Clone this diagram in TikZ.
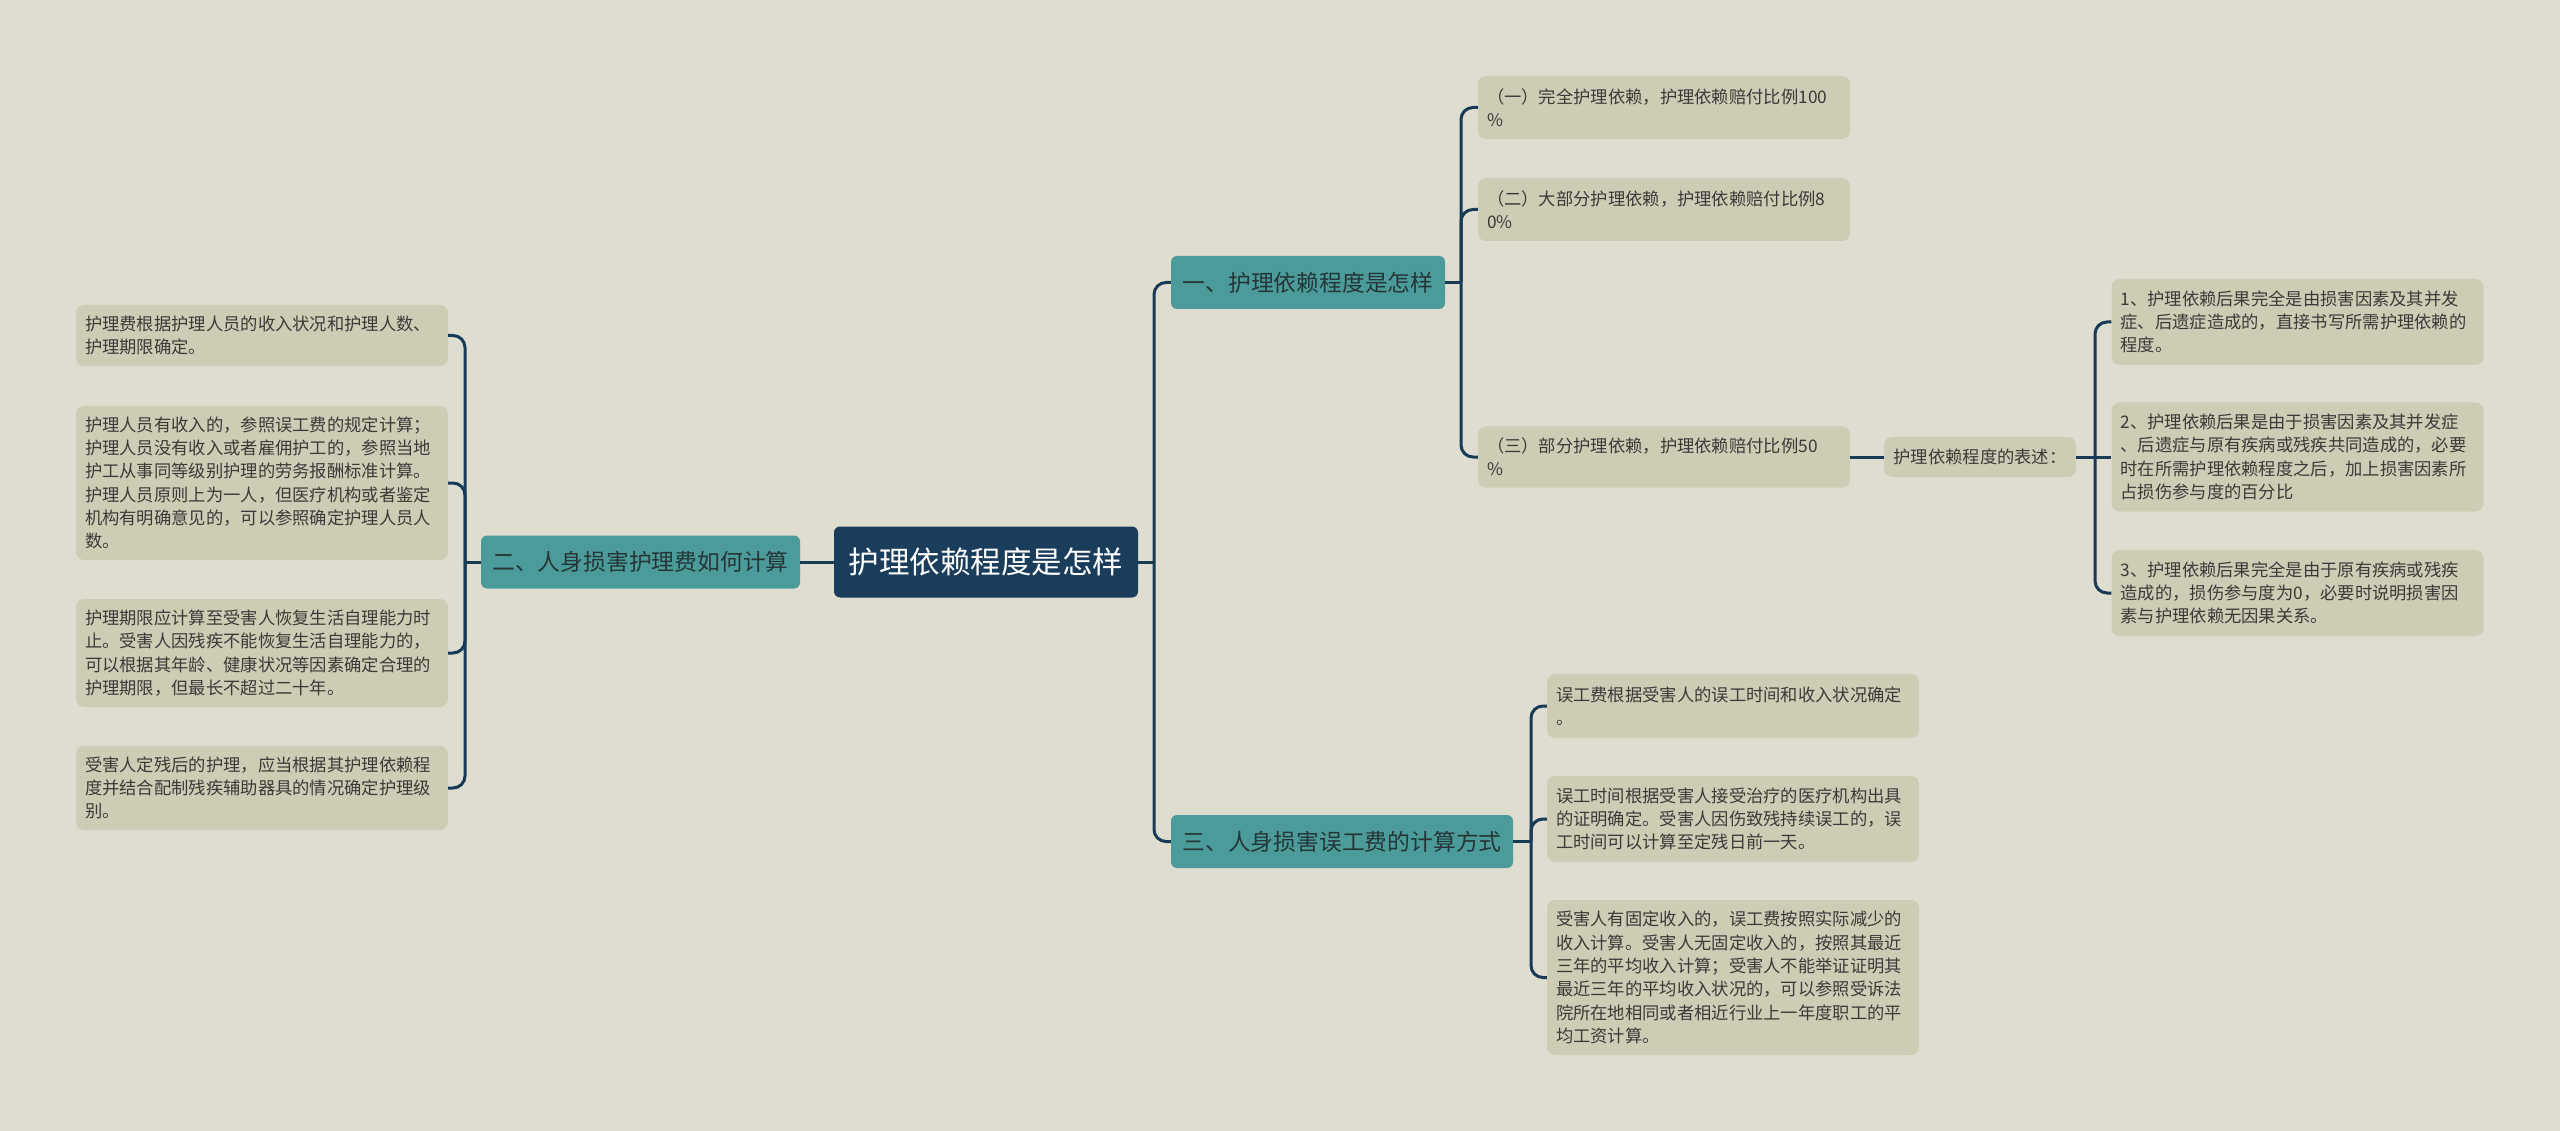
\documentclass[tikz,border=0pt]{standalone}
\usepackage{fontspec}
\newfontfamily\cjkfont{Noto Sans CJK SC}
\definecolor{bgpaper}{HTML}{DFDDCF}
\definecolor{leafgray}{HTML}{CFCCB5}
\definecolor{leaftext}{HTML}{3A3A38}
\definecolor{branchteal}{HTML}{4A9B9A}
\definecolor{branchtext}{HTML}{263637}
\definecolor{rootnavy}{HTML}{1A3D5C}
\definecolor{linkblue}{HTML}{173A57}
\begin{document}
\begin{tikzpicture}[x=1pt,y=-1pt]
\tikzstyle{link}=[draw=linkblue,line width=3pt,rounded corners=12pt]
\tikzstyle{rootbox}=[fill=rootnavy,rounded corners=6pt,text=white,font=\cjkfont\fontsize{30.5pt}{34pt}\selectfont,minimum width=304pt,minimum height=71pt,inner sep=0pt]
\tikzstyle{branchbox}=[fill=branchteal,rounded corners=6pt,text=branchtext,font=\cjkfont\fontsize{22.8pt}{26pt}\selectfont,minimum height=53pt,inner sep=0pt]
\tikzstyle{leafbox}=[fill=leafgray,rounded corners=8pt,text=leaftext,font=\cjkfont\fontsize{17.3pt}{23.3pt}\selectfont,align=left,text width=354pt,inner xsep=9pt,inner ysep=4pt]
\tikzstyle{notebox}=[fill=leafgray,rounded corners=8pt,text=leaftext,font=\cjkfont\fontsize{17.3pt}{23.3pt}\selectfont,minimum width=192pt,minimum height=40pt,inner sep=0pt]
\fill [bgpaper] (0,0) rectangle (2560,1131);
\useasboundingbox (0,0) rectangle (2560,1131);
\node [rootbox] (root) at (986,562) {护理依赖程度是怎样};
\node [branchbox,minimum width=319pt] (br2) at (640.5,562) {二、人身损害护理费如何计算};
\node [branchbox,minimum width=274pt] (br1) at (1308,282.5) {一、护理依赖程度是怎样};
\node [branchbox,minimum width=342pt] (br3) at (1342,841.5) {三、人身损害误工费的计算方式};
\node [leafbox,minimum height=61pt] (l1) at (262,335.5) {护理费根据护理人员的收入状况和护理人数、\\护理期限确定。};
\node [leafbox,minimum height=154pt] (l2) at (262,483) {护理人员有收入的，参照误工费的规定计算；\\护理人员没有收入或者雇佣护工的，参照当地\\护工从事同等级别护理的劳务报酬标准计算。\\护理人员原则上为一人，但医疗机构或者鉴定\\机构有明确意见的，可以参照确定护理人员人\\数。};
\node [leafbox,minimum height=108pt] (l3) at (262,653) {护理期限应计算至受害人恢复生活自理能力时\\止。受害人因残疾不能恢复生活自理能力的，\\可以根据其年龄、健康状况等因素确定合理的\\护理期限，但最长不超过二十年。};
\node [leafbox,minimum height=84pt] (l4) at (262,788) {受害人定残后的护理，应当根据其护理依赖程\\度并结合配制残疾辅助器具的情况确定护理级\\别。};
\node [leafbox,minimum height=63pt] (a1) at (1664,107.5) {（一）完全护理依赖，护理依赖赔付比例100\\\%};
\node [leafbox,minimum height=63pt] (a2) at (1664,209.5) {（二）大部分护理依赖，护理依赖赔付比例8\\0\%};
\node [leafbox,minimum height=61pt] (a3) at (1664,457) {（三）部分护理依赖，护理依赖赔付比例50\\\%};
\node [notebox] (ad) at (1980,457) {护理依赖程度的表述：};
\node [leafbox,minimum height=86pt] (r1) at (2297.5,322) {1、护理依赖后果完全是由损害因素及其并发\\症、后遗症造成的，直接书写所需护理依赖的\\程度。};
\node [leafbox,minimum height=109pt] (r2) at (2297.5,457) {2、护理依赖后果是由于损害因素及其并发症\\、后遗症与原有疾病或残疾共同造成的，必要\\时在所需护理依赖程度之后，加上损害因素所\\占损伤参与度的百分比};
\node [leafbox,minimum height=86pt] (r3) at (2297.5,593) {3、护理依赖后果完全是由于原有疾病或残疾\\造成的，损伤参与度为0，必要时说明损害因\\素与护理依赖无因果关系。};
\node [leafbox,minimum height=64pt] (c1) at (1733,706) {误工费根据受害人的误工时间和收入状况确定\\。};
\node [leafbox,minimum height=86pt] (c2) at (1733,819) {误工时间根据受害人接受治疗的医疗机构出具\\的证明确定。受害人因伤致残持续误工的，误\\工时间可以计算至定残日前一天。};
\node [leafbox,minimum height=155pt] (c3) at (1733,977.5) {受害人有固定收入的，误工费按照实际减少的\\收入计算。受害人无固定收入的，按照其最近\\三年的平均收入计算；受害人不能举证证明其\\最近三年的平均收入状况的，可以参照受诉法\\院所在地相同或者相近行业上一年度职工的平\\均工资计算。};
\coordinate (jr) at (1154,562);
\coordinate (jl) at (465,562);
\coordinate (ja) at (1461,282.5);
\coordinate (jc) at (1531,841.5);
\coordinate (jd) at (2095,457);
\draw [link] (root.west) -- (br2.east);
\draw [link] (root.east) -- (jr);
\foreach \n in {br1,br3} \draw [link] (jr) |- (\n.west);
\draw [link] (br2.west) -- (jl);
\foreach \n in {l1,l2,l3,l4} \draw [link] (jl) |- (\n.east);
\draw [link] (br1.east) -- (ja);
\foreach \n in {a1,a2,a3} \draw [link] (ja) |- (\n.west);
\draw [link] (a3.east) -- (ad.west);
\draw [link] (ad.east) -- (jd);
\draw [link] (jd) -- (r2.west);
\foreach \n in {r1,r3} \draw [link] (jd) |- (\n.west);
\draw [link] (br3.east) -- (jc);
\foreach \n in {c1,c2,c3} \draw [link] (jc) |- (\n.west);
\end{tikzpicture}
\end{document}
